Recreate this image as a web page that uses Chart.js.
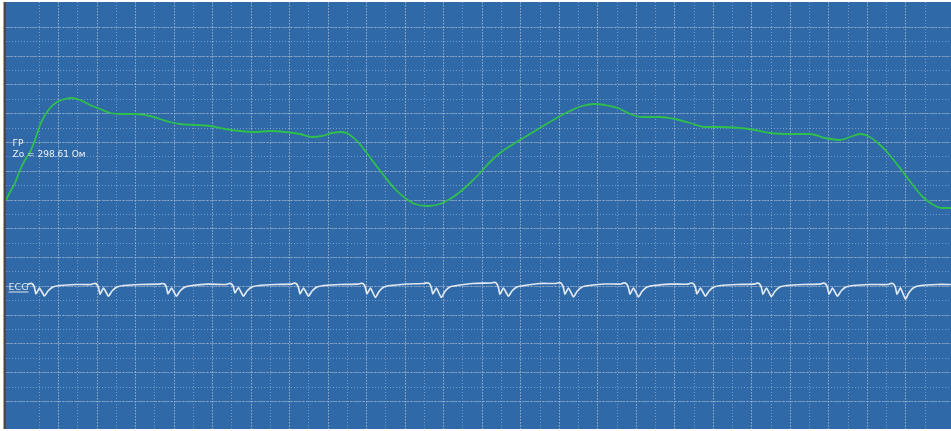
<!DOCTYPE html>
<html>
<head>
<meta charset="utf-8">
<script src="https://cdn.jsdelivr.net/npm/chart.js@4/dist/chart.umd.min.js"></script>
<style>
  html, body { margin: 0; padding: 0; background: #ffffff; }
  #wrap { width: 951px; height: 431px; position: relative; }
</style>
</head>
<body>
<div id="wrap"><canvas id="c" width="951" height="431"></canvas></div>
<script>
// Rheogram (ГР): time, s and impedance change ΔZ, Ω
const rheoTime = [-0.145, -0.104, -0.052, 0.000, 0.052, 0.104, 0.156, 0.208, 0.260, 0.312, 0.384, 0.467, 0.540,
  0.623, 0.727, 0.831, 0.935, 1.038, 1.194, 1.350, 1.454, 1.558, 1.661, 1.817, 1.973, 2.129, 2.284, 2.440,
  2.596, 2.752, 2.908, 3.032, 3.136, 3.240, 3.344, 3.427, 3.510, 3.593, 3.686, 3.790, 3.894, 3.998, 4.102,
  4.237, 4.361, 4.465, 4.569, 4.673, 4.777, 4.880, 4.984, 5.109, 5.244, 5.400, 5.555, 5.711, 5.836, 5.971,
  6.075, 6.210, 6.334, 6.459, 6.646, 6.802, 6.957, 7.113, 7.269, 7.477, 7.632, 7.788, 7.996, 8.203, 8.359,
  8.515, 8.619, 8.723, 8.806, 8.909, 9.013, 9.138, 9.263, 9.366, 9.470, 9.574, 9.668];
const rheoOhm = [-0.080, -0.064, -0.046, -0.020, 0.000, 0.016, 0.040, 0.070, 0.090, 0.104, 0.116, 0.122, 0.124,
  0.120, 0.110, 0.102, 0.094, 0.092, 0.092, 0.088, 0.082, 0.076, 0.072, 0.070, 0.068, 0.062, 0.058, 0.056,
  0.058, 0.056, 0.052, 0.046, 0.048, 0.054, 0.056, 0.050, 0.036, 0.016, -0.008, -0.034, -0.058, -0.076, -0.088,
  -0.092, -0.088, -0.078, -0.064, -0.046, -0.026, -0.004, 0.014, 0.030, 0.046, 0.064, 0.082, 0.098, 0.108, 0.112,
  0.110, 0.104, 0.092, 0.086, 0.086, 0.082, 0.074, 0.066, 0.066, 0.064, 0.060, 0.054, 0.052, 0.052, 0.044,
  0.040, 0.046, 0.052, 0.048, 0.034, 0.014, -0.016, -0.048, -0.072, -0.088, -0.096, -0.096];

// ECG lead: time, s and voltage, mV
const ecgTime = [
  0.073, 0.104, 0.130, 0.150, 0.166, 0.202, 0.254, 0.291, 0.342, 0.415, 0.581,
  0.738, 0.769, 0.795, 0.815, 0.831, 0.867, 0.919, 0.956, 1.007, 1.080, 1.246,
  1.444, 1.475, 1.501, 1.521, 1.537, 1.573, 1.625, 1.662, 1.713, 1.786, 1.952,
  2.139, 2.170, 2.196, 2.216, 2.232, 2.268, 2.320, 2.357, 2.408, 2.481, 2.647,
  2.815, 2.846, 2.872, 2.892, 2.908, 2.944, 2.996, 3.033, 3.084, 3.157, 3.323,
  3.510, 3.541, 3.567, 3.587, 3.603, 3.639, 3.691, 3.728, 3.779, 3.852, 4.018,
  4.194, 4.225, 4.251, 4.271, 4.287, 4.323, 4.375, 4.412, 4.463, 4.536, 4.702,
  4.891, 4.922, 4.948, 4.968, 4.984, 5.020, 5.072, 5.109, 5.160, 5.233, 5.399,
  5.566, 5.597, 5.623, 5.643, 5.659, 5.695, 5.747, 5.784, 5.835, 5.908, 6.074,
  6.241, 6.272, 6.298, 6.318, 6.334, 6.370, 6.422, 6.459, 6.510, 6.583, 6.749,
  6.937, 6.968, 6.994, 7.014, 7.030, 7.066, 7.118, 7.155, 7.206, 7.279, 7.445,
  7.622, 7.653, 7.679, 7.699, 7.715, 7.751, 7.803, 7.840, 7.891, 7.964, 8.130,
  8.308, 8.339, 8.365, 8.385, 8.401, 8.437, 8.489, 8.526, 8.577, 8.650, 8.816,
  9.014, 9.045, 9.071, 9.091, 9.107, 9.143, 9.195, 9.232, 9.283, 9.356, 9.522, 9.668];
const ecgMv = [
  0.000, 0.015, 0.010, -0.025, -0.090, -0.030, -0.110, -0.060, -0.020, -0.005, 0.005,
  0.005, 0.015, 0.010, -0.025, -0.093, -0.030, -0.112, -0.060, -0.020, -0.005, 0.005,
  0.008, 0.015, 0.010, -0.025, -0.090, -0.030, -0.112, -0.060, -0.020, -0.005, 0.008,
  0.005, 0.015, 0.010, -0.020, -0.080, -0.025, -0.112, -0.060, -0.020, -0.005, 0.005,
  0.008, 0.018, 0.012, -0.025, -0.090, -0.030, -0.112, -0.060, -0.020, -0.005, 0.005,
  0.008, 0.016, 0.012, -0.025, -0.090, -0.030, -0.125, -0.065, -0.020, -0.005, 0.010,
  0.015, 0.022, 0.015, -0.025, -0.090, -0.030, -0.125, -0.065, -0.020, -0.005, 0.015,
  0.020, 0.026, 0.018, -0.025, -0.093, -0.030, -0.112, -0.060, -0.020, -0.005, 0.015,
  0.015, 0.024, 0.015, -0.025, -0.093, -0.030, -0.120, -0.065, -0.020, -0.005, 0.010,
  0.010, 0.022, 0.012, -0.025, -0.093, -0.030, -0.120, -0.065, -0.020, -0.005, 0.008,
  0.008, 0.020, 0.012, -0.025, -0.090, -0.030, -0.112, -0.060, -0.020, -0.005, 0.005,
  0.008, 0.018, 0.012, -0.025, -0.093, -0.030, -0.118, -0.062, -0.020, -0.005, 0.005,
  0.008, 0.018, 0.012, -0.025, -0.093, -0.030, -0.112, -0.060, -0.020, -0.005, 0.005,
  0.005, 0.016, 0.010, -0.025, -0.093, -0.030, -0.140, -0.075, -0.025, -0.005, 0.005, 0.005];

const baseImpedance = 298.61; // Zo, Ω
const traceLabels = ['ГР', 'ECG'];

// recording window and grid pitch
const timeMin = -0.1454, timeMax = 9.668;
const minorSec = 0.2, majorSec = 0.4;
const divMin = 0.09, divMax = 29.76;
const ecgMin = -1.44, ecgMax = 2.83;
const rheoMin = -0.538, rheoMax = 0.316;

const PAPER = '#2f69a8';
const MINOR = 'rgba(170,196,228,0.55)';
const MAJOR = 'rgba(168,180,198,0.55)';

function onStep(v, step) {
  const k = v / step;
  return Math.abs(k - Math.round(k)) < 1e-6;
}

const paperPlugin = {
  id: 'paper',
  beforeDraw(chart) {
    const { ctx, chartArea: a } = chart;
    ctx.save();
    ctx.fillStyle = PAPER;
    ctx.fillRect(a.left, a.top, a.right - a.left, a.bottom - a.top);
    ctx.fillStyle = '#4a4947';
    ctx.fillRect(a.left - 2.5, a.top, 2.5, a.bottom - a.top);
    ctx.restore();
  },
  afterDatasetsDraw(chart) {
    const { ctx, chartArea: a, scales } = chart;
    ctx.save();
    ctx.fillStyle = '#eef2f7';
    ctx.textBaseline = 'alphabetic';
    ctx.font = '9px "DejaVu Sans"';
    const yR = scales.yR.getPixelForValue(0);
    ctx.fillText(traceLabels[0], a.left + 6.5, yR - 14.5);
    ctx.fillText('Zo = ' + baseImpedance.toFixed(2) + ' Ом', a.left + 6.5, yR - 3.5);
    const yE = scales.yE.getPixelForValue(0);
    ctx.fillStyle = '#dfe6ef';
    ctx.font = '9.5px "DejaVu Sans"';
    const w = ctx.measureText(traceLabels[1]).width;
    ctx.fillText(traceLabels[1], a.left + 2.5, yE + 4.5);
    ctx.fillRect(a.left + 2.5, yE + 6.5, w, 1);
    ctx.restore();
  }
};

function gridAxis(step, color, dash, axis, min, max) {
  return {
    type: 'linear', axis, min, max, display: true,
    ticks: { display: false, stepSize: step, maxTicksLimit: 1000 },
    grid: {
      drawTicks: false,
      lineWidth: 1,
      color: (c) => (c.tick && onStep(c.tick.value, step)) ? color : 'rgba(0,0,0,0)'
    },
    border: { display: false, dash }
  };
}

new Chart(document.getElementById('c'), {
  type: 'line',
  data: {
    datasets: [
      {
        label: traceLabels[0],
        data: rheoTime.map((t, i) => ({ x: t, y: rheoOhm[i] })),
        xAxisID: 'x', yAxisID: 'yR',
        borderColor: '#2fbf4c', borderWidth: 1.8,
        pointRadius: 0, cubicInterpolationMode: 'monotone', fill: false
      },
      {
        label: traceLabels[1],
        data: ecgTime.map((t, i) => ({ x: t, y: ecgMv[i] })),
        xAxisID: 'x', yAxisID: 'yE',
        borderColor: '#e2e8f0', borderWidth: 1.7,
        pointRadius: 0, tension: 0.15, fill: false
      }
    ]
  },
  options: {
    responsive: false,
    animation: false,
    devicePixelRatio: 1,
    layout: { padding: { left: 6, top: 2, right: 0, bottom: 2 } },
    plugins: { legend: { display: false }, tooltip: { enabled: false } },
    scales: {
      x: gridAxis(minorSec, MINOR, [1, 2], 'x', timeMin, timeMax),
      xMajor: gridAxis(majorSec, MAJOR, [2, 1], 'x', timeMin, timeMax),
      yDiv: gridAxis(1, MINOR, [1, 2], 'y', divMin, divMax),
      yDivMajor: gridAxis(2, MAJOR, [3, 1], 'y', divMin, divMax),
      yE: { type: 'linear', display: false, min: ecgMin, max: ecgMax },
      yR: { type: 'linear', display: false, min: rheoMin, max: rheoMax }
    }
  },
  plugins: [paperPlugin]
});
</script>
</body>
</html>
